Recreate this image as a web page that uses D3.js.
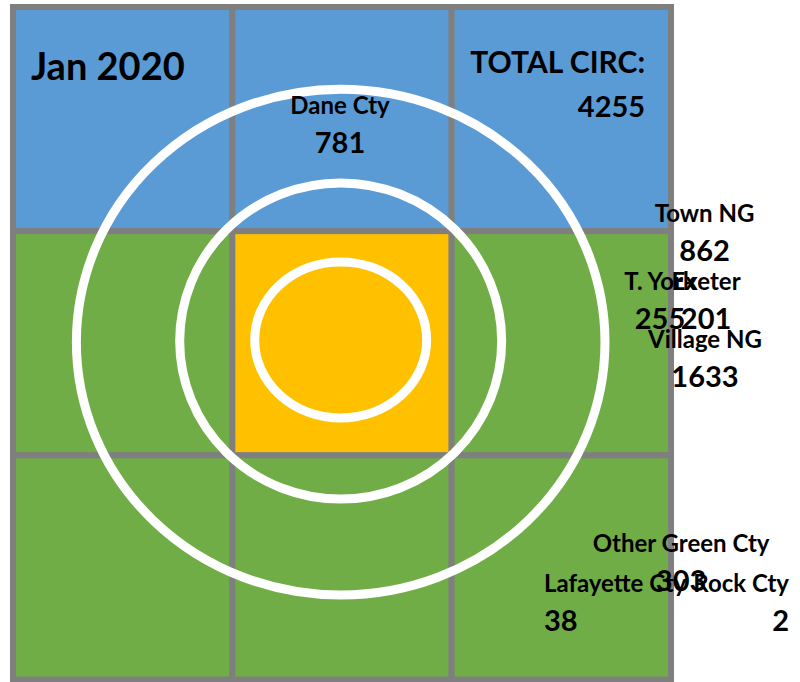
<!DOCTYPE html>
<html>
<head>
<meta charset="utf-8">
<script src="https://cdn.jsdelivr.net/npm/d3@7"></script>
<style>
  body { margin: 0; background: #fff; }
  text { font-family: Lato, "Open Sans", sans-serif; font-weight: 700; fill: #000; }
</style>
</head>
<body>
<svg id="chart"></svg>
<script>
// Grid of 3x3 cells, zone of each cell (row by row)
const gridRows = [0, 1, 2];
const gridCols = [0, 1, 2];
const cellZones = [
  "outer", "outer", "outer",
  "mid", "core", "mid",
  "mid", "mid", "mid"
];

// Target rings (grid units, centre and radii)
const ringCx = [1.494, 1.494, 1.494];
const ringCy = [1.485, 1.490, 1.495];
const ringRx = [0.392, 0.734, 1.205];
const ringRy = [0.348, 0.705, 1.128];

// Data labels
const labelNames = ["Dane Cty", "Town NG", "T. York", "Exeter", "Village NG", "Other Green Cty", "Lafayette Cty", "Rock Cty"];
const labelValues = [781, 862, 255, 201, 1633, 303, 38, 2];
const labelX = [1.491, 3.153, 2.950, 3.160, 3.155, 3.046, 2.421, 3.538];
const labelY = [0.477, 0.958, 1.262, 1.262, 1.523, 2.430, 2.608, 2.608];
const labelAlign = ["middle", "middle", "middle", "middle", "middle", "middle", "start", "end"];

// Headline texts
const titleText = "Jan 2020";
const totalLabel = "TOTAL CIRC:";
const totalValue = 4255;

// Configuration
const width = 800;
const height = 682;
const zoneColors = d3.scaleOrdinal()
  .domain(["outer", "mid", "core"])
  .range(["#5b9bd5", "#70ad47", "#ffc000"]);

const svg = d3.select("#chart")
  .attr("width", width)
  .attr("height", height);

// Scales: grid units -> pixels
const x = d3.scaleLinear().domain([0, 3]).range([13, 671]);
const y = d3.scaleLinear().domain([0, 3]).range([7, 679.5]);

// Cells
const cells = [];
gridRows.forEach(r => gridCols.forEach(c => cells.push({ r, c, zone: cellZones[r * 3 + c] })));

svg.append("g")
  .selectAll("rect")
  .data(cells)
  .join("rect")
  .attr("x", d => x(d.c))
  .attr("y", d => y(d.r))
  .attr("width", d => x(d.c + 1) - x(d.c))
  .attr("height", d => y(d.r + 1) - y(d.r))
  .attr("fill", d => zoneColors(d.zone))
  .attr("stroke", "#7f7f7f")
  .attr("stroke-width", 6);

// Rings
svg.append("g")
  .selectAll("ellipse")
  .data(ringRx.map((rx, i) => ({ cx: ringCx[i], cy: ringCy[i], rx, ry: ringRy[i] })))
  .join("ellipse")
  .attr("cx", d => x(d.cx))
  .attr("cy", d => y(d.cy))
  .attr("rx", d => x(d.rx) - x(0))
  .attr("ry", d => y(d.ry) - y(0))
  .attr("fill", "none")
  .attr("stroke", "#fff")
  .attr("stroke-width", 9);

// Title and total
svg.append("text")
  .attr("x", x(0.082))
  .attr("y", y(0.325))
  .style("font-size", "38px")
  .text(titleText);

const total = svg.append("g").attr("text-anchor", "end");
total.append("text")
  .attr("x", x(2.882))
  .attr("y", y(0.293))
  .style("font-size", "30px")
  .text(totalLabel);
total.append("text")
  .attr("x", x(2.882))
  .attr("y", y(0.489))
  .style("font-size", "29px")
  .text(totalValue);

// Data labels
const labels = svg.append("g")
  .selectAll("g")
  .data(labelNames.map((name, i) => ({ name, value: labelValues[i], lx: labelX[i], ly: labelY[i], align: labelAlign[i] })))
  .join("g")
  .attr("transform", d => `translate(${x(d.lx)},${y(d.ly)})`)
  .attr("text-anchor", d => d.align);

labels.append("text")
  .style("font-size", "24px")
  .text(d => d.name);

labels.append("text")
  .attr("y", 39)
  .style("font-size", "29px")
  .text(d => d.value);
</script>
</body>
</html>
